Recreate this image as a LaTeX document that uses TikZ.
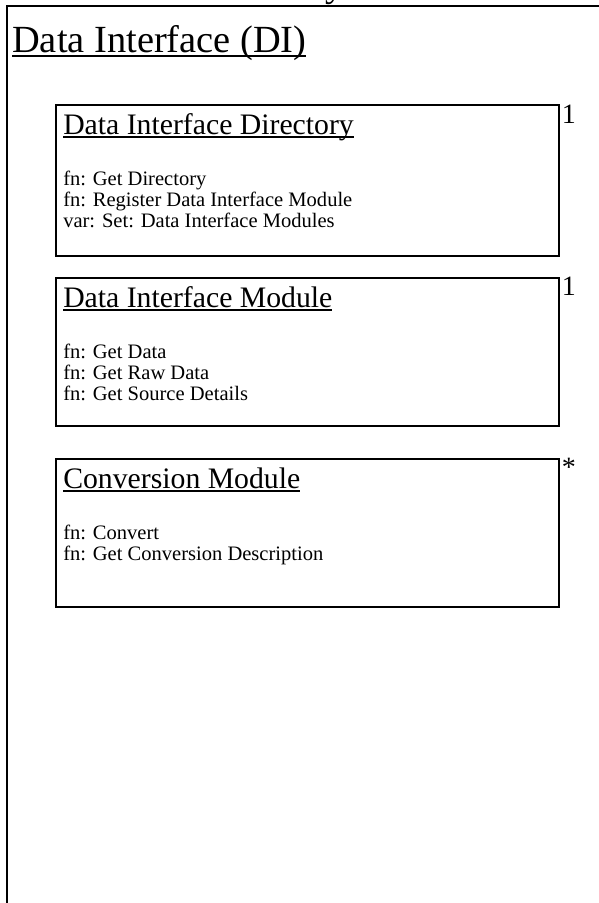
\documentclass[tikz,border=0pt]{standalone}
\usepackage{fontspec}
\setmainfont{Liberation Serif}
\usetikzlibrary{positioning}
\newcommand{\uln}[1]{\setbox0\hbox{#1}\rlap{\rule[-0.13em]{\wd0}{0.05em}}\box0}

\begin{document}
\begin{tikzpicture}[
  x=0.75pt, y=-0.75pt,
  frame/.style={line width=2pt},
  box/.style={draw, line width=1.5pt, anchor=north west, minimum width=377pt, inner sep=0pt},
  head/.style={anchor=base west, inner sep=0pt, font=\fontsize{22.3}{26}\selectfont},
  body/.style={anchor=base west, inner sep=0pt, align=left, font=\fontsize{15.4}{15.75}\selectfont},
  mult/.style={anchor=north west, inner sep=0pt, font=\fontsize{21}{24}\selectfont}
]
  \useasboundingbox (0,0) rectangle (599,903);
  % outer package frame
  \draw[frame] (7,903) -- (7,6) -- (599,6);
  \node[anchor=base, inner sep=0pt, font=\fontsize{28.5}{32}\selectfont] (cut) at (335,-3.5) {y};
  \node[anchor=base west, inner sep=0pt, font=\fontsize{28.8}{32}\selectfont] (title) at (12,52) {\uln{Data Interface (DI)}};

  % directory
  \node[box, minimum height=113pt] (dir) at (55,104) {};
  \node[head] (dirhead) at ([shift={(8,30)}]dir.north west) {\uln{Data Interface Directory}};
  \node[body] (dirbody) at ([shift={(8,123)}]dir.north west) {fn: Get Directory\\fn: Register Data Interface Module\\var: Set: Data Interface Modules};
  \node[mult] (dirmult) at ([shift={(2,1)}]dir.north east) {1};

  % module
  \node[box, minimum height=111pt] (mod) at (55,277) {};
  \node[head] (modhead) at ([shift={(8,30)}]mod.north west) {\uln{Data Interface Module}};
  \node[body] (modbody) at ([shift={(8,123)}]mod.north west) {fn: Get Data\\fn: Get Raw Data\\fn: Get Source Details};
  \node[mult] (modmult) at ([shift={(2,0)}]mod.north east) {1};

  % conversion
  \node[box, minimum height=111pt] (conv) at (55,458) {};
  \node[head] (convhead) at ([shift={(8,30)}]conv.north west) {\uln{Conversion Module}};
  \node[body] (convbody) at ([shift={(8,102)}]conv.north west) {fn: Convert\\fn: Get Conversion Description};
  \node[mult] (convmult) at ([shift={(2,0)}]conv.north east) {*};
\end{tikzpicture}
\end{document}
